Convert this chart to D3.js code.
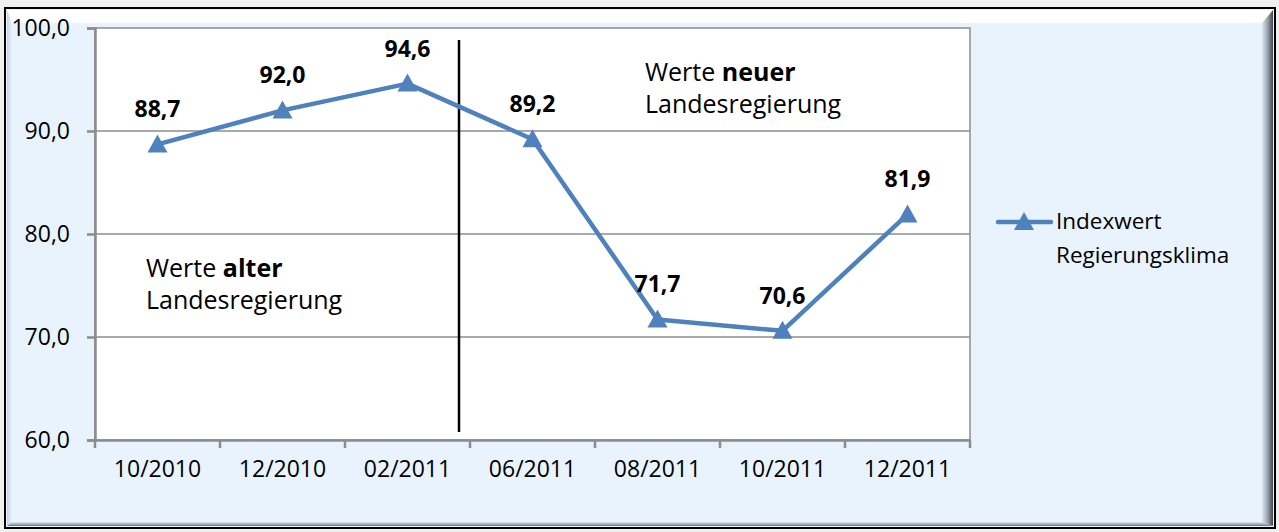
<!DOCTYPE html>
<html>
<head>
<meta charset="utf-8">
<script src="https://cdn.jsdelivr.net/npm/d3@7"></script>
<style>
  body { margin: 0; background: #f0f0f0; }
  svg { display: block; }
  text { font-family: "Open Sans", sans-serif; fill: #000; }
</style>
</head>
<body>
<div id="container"></div>
<script>
var categories = ["10/2010", "12/2010", "02/2011", "06/2011", "08/2011", "10/2011", "12/2011"];
var values = [88.7, 92.0, 94.6, 89.2, 71.7, 70.6, 81.9];
var yTicks = [60, 70, 80, 90, 100];
var seriesName = ["Indexwert", "Regierungsklima"];

var width = 1279, height = 532;
var plot = { left: 95, top: 28, right: 970, bottom: 440 };
var blue = "#4f81bd";
var fmt = d => d.toFixed(1).replace(".", ",");

const svg = d3.select("#container").append("svg")
    .attr("width", width)
    .attr("height", height);

const defs = svg.append("defs");
function grad(id, x2, y2, stops) {
    var g = defs.append("linearGradient").attr("id", id)
        .attr("x1", 0).attr("y1", 0).attr("x2", x2).attr("y2", y2);
    stops.forEach(s => g.append("stop").attr("offset", s[0]).attr("stop-color", s[1]));
}
grad("gTop", 0, 1, [[0, "#ffffff"], [1, "#ffffff"]]);
grad("gLeft", 1, 0, [[0, "#c8d3e0"], [1, "#e9f3fd"]]);
grad("gRight", 1, 0, [[0, "#dfe6ee"], [0.5, "#9aa4b0"], [1, "#40454c"]]);
grad("gBottom", 0, 1, [[0, "#dfe6ee"], [0.5, "#a9b3be"], [1, "#6b727b"]]);

// frame with bevel
svg.append("rect").attr("x", 5).attr("y", 8).attr("width", 1270).attr("height", 520)
    .attr("fill", "#e9f3fd");
svg.append("path").attr("d", "M7,10 H1273 L1262,23 H12 Z").attr("fill", "url(#gTop)");
svg.append("path").attr("d", "M7,10 L12,23 V522 L7,526 Z").attr("fill", "url(#gLeft)");
svg.append("path").attr("d", "M1262,23 L1273,10 V526 L1262,522 Z").attr("fill", "url(#gRight)");
svg.append("path").attr("d", "M7,526 L12,522 H1262 L1273,526 Z").attr("fill", "url(#gBottom)");
svg.append("rect").attr("x", 5).attr("y", 8).attr("width", 1270).attr("height", 520)
    .attr("fill", "none").attr("stroke", "#000").attr("stroke-width", 2);

const x = d3.scaleBand().domain(categories).range([plot.left, plot.right]);
const y = d3.scaleLinear().domain([60, 100]).range([plot.bottom, plot.top]);

// plot area
svg.append("rect").attr("x", plot.left).attr("y", plot.top)
    .attr("width", plot.right - plot.left).attr("height", plot.bottom - plot.top)
    .attr("fill", "#fff").attr("stroke", "#8c8c8c").attr("stroke-width", 1.5);

svg.append("g").selectAll("line").data(yTicks.slice(1, -1)).join("line")
    .attr("x1", plot.left).attr("x2", plot.right)
    .attr("y1", d => y(d)).attr("y2", d => y(d))
    .attr("stroke", "#8c8c8c").attr("stroke-width", 1.5);

// y axis
const yAxis = svg.append("g").attr("transform", `translate(${plot.left},0)`)
    .call(d3.axisLeft(y).tickValues(yTicks).tickFormat(fmt).tickSize(8).tickPadding(17));
yAxis.select(".domain").attr("stroke", "#8c8c8c").attr("stroke-width", 2.5);
yAxis.selectAll(".tick line").attr("stroke", "#8c8c8c").attr("stroke-width", 2.5);
yAxis.selectAll(".tick text").attr("font-size", 23).attr("font-family", "Open Sans").attr("fill", "#000");

// x axis
const xAxis = svg.append("g").attr("transform", `translate(0,${plot.bottom})`)
    .call(d3.axisBottom(x).tickSize(0).tickPadding(21));
xAxis.select(".domain").attr("stroke", "#8c8c8c").attr("stroke-width", 2.5);
xAxis.selectAll(".tick text").attr("font-size", 23).attr("font-family", "Open Sans").attr("fill", "#000");
svg.append("g").selectAll("line").data(categories.concat([null])).join("line")
    .attr("x1", (d, i) => plot.left + i * x.step()).attr("x2", (d, i) => plot.left + i * x.step())
    .attr("y1", plot.bottom).attr("y2", plot.bottom + 8)
    .attr("stroke", "#8c8c8c").attr("stroke-width", 2.5);

// divider between old and new government
const divX = x(categories[3]) - 11;
svg.append("line").attr("x1", divX).attr("x2", divX).attr("y1", 40).attr("y2", 432)
    .attr("stroke", "#000").attr("stroke-width", 2.5);

// line series
const cx = d => x(d) + x.bandwidth() / 2;
svg.append("path")
    .datum(values)
    .attr("fill", "none").attr("stroke", blue).attr("stroke-width", 4.5)
    .attr("stroke-linejoin", "round")
    .attr("d", d3.line().x((d, i) => cx(categories[i])).y(d => y(d)));

const tri = "M0,-10 L10,8 L-10,8 Z";
svg.append("g").selectAll("path").data(values).join("path")
    .attr("d", tri).attr("fill", blue)
    .attr("transform", (d, i) => `translate(${cx(categories[i])},${y(d)})`);

svg.append("g").selectAll("text").data(values).join("text")
    .attr("x", (d, i) => cx(categories[i]))
    .attr("y", d => y(d) - 27)
    .attr("text-anchor", "middle")
    .attr("font-size", 23).attr("font-weight", "bold")
    .text(fmt);

// annotations
function note(x0, y0, word) {
    const t = svg.append("text").attr("x", x0).attr("y", y0).attr("font-size", 25);
    t.append("tspan").text("Werte ");
    t.append("tspan").attr("font-weight", "bold").text(word);
    svg.append("text").attr("x", x0).attr("y", y0 + 32).attr("font-size", 25).text("Landesregierung");
}
note(146, 277, "alter");
note(645, 81, "neuer");

// legend
svg.append("line").attr("x1", 998).attr("x2", 1051).attr("y1", 222).attr("y2", 222)
    .attr("stroke", blue).attr("stroke-width", 4.5).attr("stroke-linecap", "round");
svg.append("path").attr("d", tri).attr("fill", blue).attr("transform", "translate(1024,222)");
svg.append("text").attr("x", 1056).attr("y", 229).attr("font-size", 22.5).text(seriesName[0]);
svg.append("text").attr("x", 1056).attr("y", 263).attr("font-size", 22.5).text(seriesName[1]);
</script>
</body>
</html>
